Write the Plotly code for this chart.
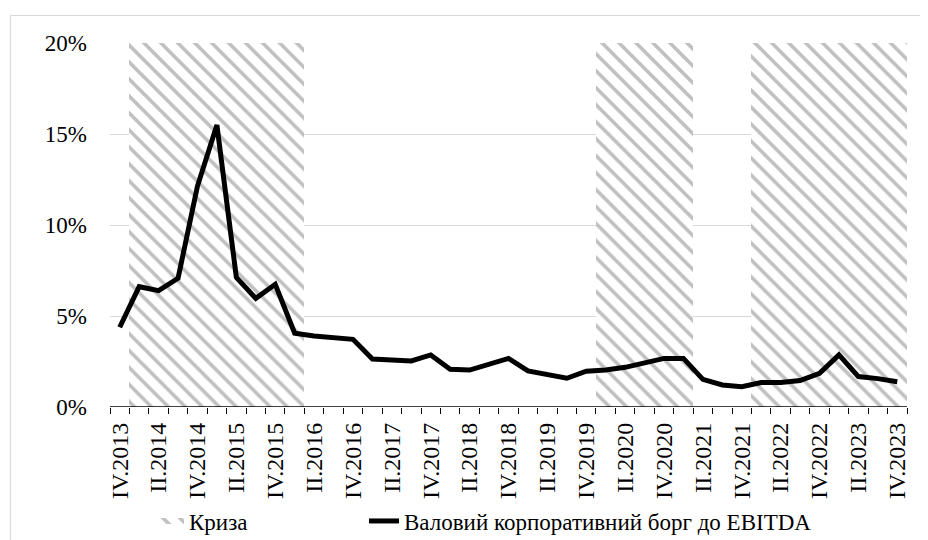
import plotly.graph_objects as go

quarters = [
    "IV.2013",
    "I.2014", "II.2014", "III.2014", "IV.2014",
    "I.2015", "II.2015", "III.2015", "IV.2015",
    "I.2016", "II.2016", "III.2016", "IV.2016",
    "I.2017", "II.2017", "III.2017", "IV.2017",
    "I.2018", "II.2018", "III.2018", "IV.2018",
    "I.2019", "II.2019", "III.2019", "IV.2019",
    "I.2020", "II.2020", "III.2020", "IV.2020",
    "I.2021", "II.2021", "III.2021", "IV.2021",
    "I.2022", "II.2022", "III.2022", "IV.2022",
    "I.2023", "II.2023", "III.2023", "IV.2023",
]

debt_to_ebitda = [
    4.38,
    6.61, 6.39, 7.07, 12.14,
    15.49, 7.12, 5.97, 6.74,
    4.05, 3.90, 3.81, 3.72,
    2.64, 2.60, 2.53, 2.86,
    2.07, 2.03, 2.36, 2.67,
    1.98, 1.81, 1.58, 1.97,
    2.03, 2.18, 2.40, 2.67,
    2.67, 1.52, 1.21, 1.12,
    1.34, 1.34, 1.45, 1.85,
    2.86, 1.67, 1.56, 1.39,
]

crisis = [
    0,
    1, 1, 1, 1,
    1, 1, 1, 1,
    1, 0, 0, 0,
    0, 0, 0, 0,
    0, 0, 0, 0,
    0, 0, 0, 0,
    1, 1, 1, 1,
    1, 0, 0, 0,
    1, 1, 1, 1,
    1, 1, 1, 1,
]

tick_labels = quarters[::2]
crisis_level = 0.20

x_idx = list(range(len(quarters)))
tick_pos = x_idx[::2]

FONT = "Liberation Serif, Times New Roman, serif"
FS = 23

# page offset of the figure (default body margin)
OFF = 8
W, H = 928 - OFF, 540 - OFF
# plot area in page pixels
PL, PR, PT, PB = 110, 907, 43, 407
PW, PH = PR - PL, PB - PT


def px_x(px):
    return (px - PL) / PW


def px_y(py):
    return (PB - py) / PH


hatch = dict(shape="\\", fgcolor="#c0c0c0", bgcolor="white",
             size=12, solidity=0.3, fillmode="replace")

fig = go.Figure()

fig.add_trace(go.Bar(
    x=x_idx,
    y=[crisis_level if c else None for c in crisis],
    width=1.0,
    name="Криза",
    showlegend=False,
    marker=dict(color="white", line=dict(width=0), pattern=hatch),
    hoverinfo="skip",
))

# legend entry for the crisis shading (wide hatched swatch)
fig.add_trace(go.Scatter(
    x=[None], y=[None],
    mode="none",
    fill="toself",
    fillcolor="white",
    fillpattern=hatch,
    name="Криза",
    legend="legend",
    showlegend=True,
    hoverinfo="skip",
))

fig.add_trace(go.Scatter(
    x=x_idx,
    y=[v / 100 for v in debt_to_ebitda],
    mode="lines",
    name="Валовий корпоративний борг до EBITDA",
    legend="legend2",
    line=dict(color="black", width=5),
))

legend_common = dict(
    orientation="h",
    yanchor="middle",
    font=dict(family=FONT, size=FS, color="black"),
    bgcolor="rgba(0,0,0,0)",
    borderwidth=0,
)

fig.update_layout(
    template="none",
    width=W, height=H,
    margin=dict(l=PL - OFF, r=928 - PR, t=PT - OFF, b=540 - PB,
                autoexpand=False),
    paper_bgcolor="white", plot_bgcolor="white",
    font=dict(family=FONT, size=FS, color="black"),
    barmode="overlay",
    bargap=0,
    showlegend=True,
    legend=dict(x=px_x(149), xanchor="left", y=px_y(521), **legend_common),
    legend2=dict(x=px_x(364), xanchor="left", y=px_y(521), **legend_common),
    xaxis=dict(
        range=[-0.5, len(quarters) - 0.5],
        tickmode="array",
        tickvals=tick_pos,
        ticktext=tick_labels,
        tickangle=-90,
        ticks="",
        showgrid=False,
        zeroline=False,
        showline=False,
        automargin=False,
        minor=dict(
            tickmode="array",
            tickvals=[i - 0.5 for i in range(len(quarters) + 1)],
            ticks="outside", ticklen=6, tickcolor="black", tickwidth=1.2,
            showgrid=False,
        ),
        tickfont=dict(family=FONT, size=24),
        ticklabelstandoff=10,
        fixedrange=True,
    ),
    yaxis=dict(
        range=[0, 0.2],
        tickmode="array",
        tickvals=[0, 0.05, 0.10, 0.15, 0.20],
        tickformat=".0%",
        showgrid=True, gridcolor="#d9d9d9", gridwidth=1.2,
        zeroline=False,
        showline=False,
        ticks="",
        automargin=False,
        ticklabelstandoff=22,
        tickfont=dict(family=FONT, size=FS),
        fixedrange=True,
    ),
    shapes=[
        dict(type="line", xref="x", yref="y",
             x0=-0.5, x1=len(quarters) - 0.5, y0=0, y1=0,
             line=dict(color="black", width=1.5), layer="above"),
        dict(type="rect", xref="paper", yref="paper",
             x0=px_x(10.5), x1=px_x(960), y0=px_y(580), y1=px_y(15.5),
             line=dict(color="#d9d9d9", width=1.2), layer="below"),
    ],
)

fig.write_html("out.html")
